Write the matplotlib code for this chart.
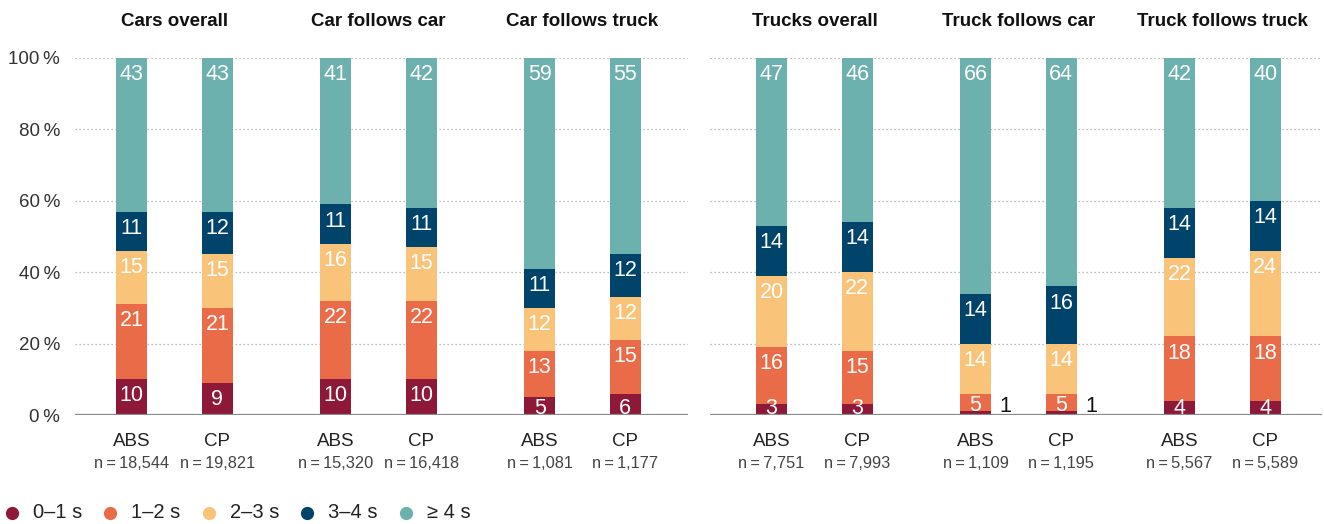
import matplotlib
matplotlib.use('Agg')
import matplotlib.pyplot as plt
from matplotlib.lines import Line2D
import numpy as np

plt.rcParams['font.family'] = ['Liberation Sans', 'DejaVu Sans']

# data (percent of following situations)
groups = ['Cars overall', 'Car follows car', 'Car follows truck',
          'Trucks overall', 'Truck follows car', 'Truck follows truck']
systems = ['ABS', 'CP']
n_obs = [18544, 19821, 15320, 16418, 1081, 1177,
         7751, 7993, 1109, 1195, 5567, 5589]
s0_1 = [10, 9, 10, 10, 5, 6, 3, 3, 1, 1, 4, 4]
s1_2 = [21, 21, 22, 22, 13, 15, 16, 15, 5, 5, 18, 18]
s2_3 = [15, 15, 16, 15, 12, 12, 20, 22, 14, 14, 22, 24]
s3_4 = [11, 12, 11, 11, 11, 12, 14, 14, 14, 16, 14, 14]
s4_plus = [43, 43, 41, 42, 59, 55, 47, 46, 66, 64, 42, 40]
bands = ['0–1 s', '1–2 s', '2–3 s', '3–4 s', '≥ 4 s']
colors = ['#8e1838', '#ea6b48', '#f9c47a', '#00446c', '#6db1ae']

W, H = 1324, 524
fig = plt.figure(figsize=(W / 100, H / 100), dpi=100)

# panel placement in pixels: (left, right, xlim)
panels = [(75, 688, (-0.488, 2.517)), (710, 1322, (-0.512, 2.488))]
y0, y1 = 415, 58   # pixel rows of 0 % and 100 %
PX = 0.72          # pixels -> points

series = np.array([s0_1, s1_2, s2_3, s3_4, s4_plus], dtype=float)
offset = 0.21
width = 0.152

for p, (xl, xr, xlim) in enumerate(panels):
    ax = fig.add_axes([xl / W, (H - y0) / H, (xr - xl) / W, (y0 - y1) / H])
    ax.set_xlim(*xlim)
    ax.set_ylim(0, 100)
    for s in ax.spines.values():
        s.set_visible(False)
    ax.set_xticks([])
    for y in range(20, 101, 20):
        ax.axhline(y, color='#a8a8a8', lw=0.9, ls=(0, (1, 2.2)), zorder=0)
    ax.axhline(0, color='#8a8a8a', lw=1.6, zorder=3)

    if p == 0:
        ax.set_yticks(range(0, 101, 20))
        ax.set_yticklabels([f'{v}\u2009%' for v in range(0, 101, 20)],
                           fontsize=13.5, color='#333333')
        ax.tick_params(axis='y', length=0, pad=15 * PX)
    else:
        ax.set_yticks([])

    for g in range(3):
        gi = p * 3 + g
        ax.annotate(groups[gi], xy=(g, 1), xycoords=('data', 'axes fraction'),
                    xytext=(0, 37 * PX), textcoords='offset points',
                    ha='center', va='center', fontsize=13.5,
                    fontweight='bold', color='#111111')
        for k, sysname in enumerate(systems):
            idx = gi * 2 + k
            xc = g + (k * 2 - 1) * offset
            vals = series[:, idx]
            bottoms = np.concatenate([[0], np.cumsum(vals)[:-1]])
            ax.bar(xc, vals, width=width, bottom=bottoms, color=colors,
                   zorder=2)
            for v, b in zip(vals, bottoms):
                t = b + v
                if v < 2:
                    ax.text(xc + width / 2 + 0.069, 0.84, f'{v:.0f}',
                            ha='center', va='baseline', fontsize=15.5,
                            color='#111111', zorder=4)
                    continue
                yc = max(t - 4.2, b + 2.2)
                ax.text(xc, yc - 2.0, f'{v:.0f}', ha='center', va='baseline',
                        fontsize=15.5, color='white', zorder=4)
            ax.annotate(sysname, xy=(xc, 0), xycoords=('data', 'axes fraction'),
                        xytext=(0, -26 * PX), textcoords='offset points',
                        ha='center', va='center', fontsize=13.5,
                        color='#222222')
            ax.annotate(f'n\u2009=\u2009{n_obs[idx]:,}', xy=(xc, 0),
                        xycoords=('data', 'axes fraction'),
                        xytext=(0, -48 * PX), textcoords='offset points',
                        ha='center', va='center', fontsize=11.8,
                        color='#444444')

# legend row
for i, (lab, c) in enumerate(zip(bands, colors)):
    x = 11.7 + 98.5 * i
    fig.add_artist(Line2D([x / W], [(H - 513) / H], transform=fig.transFigure,
                          marker='o', ms=8.5, color=c, ls=''))
    fig.text((x + 21) / W, (H - 513) / H, lab, ha='left', va='center',
             fontsize=14.5, color='#222222')

fig.savefig('out.png', dpi=100)
